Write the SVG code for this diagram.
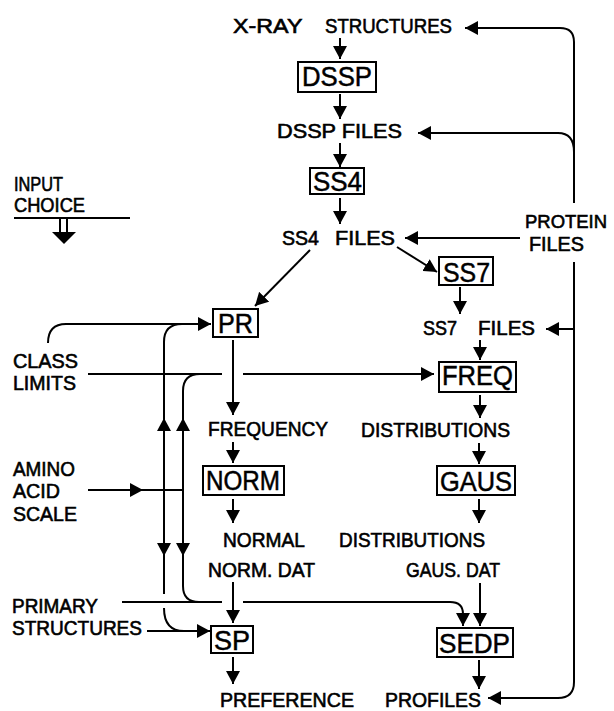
<svg xmlns="http://www.w3.org/2000/svg" width="614" height="711" viewBox="0 0 614 711">
<style>
  .t { font-family: "Liberation Sans", Arial, sans-serif; font-size: 20px; fill: #000; stroke: #000; stroke-width: 0.6; }
  .b { font-family: "Liberation Sans", Arial, sans-serif; font-size: 27px; fill: #000; stroke: #000; stroke-width: 0.5; }
  .box { fill: #fff; stroke: #000; stroke-width: 2; }
  .c { fill: none; stroke: #000; stroke-width: 2; }
  .h { fill: #000; stroke: none; }
</style>
<defs>
  <marker id="ah" markerWidth="14" markerHeight="14" refX="13" refY="7" orient="auto" markerUnits="userSpaceOnUse">
    <path d="M0,0 L13,7 L0,14 z" fill="#000"/>
  </marker>
</defs>
<rect width="614" height="711" fill="#fff"/>

<g id="connectors">
  <!-- main chain x=340 -->
  <path class="c" d="M340 38 V59" marker-end="url(#ah)"/>
  <path class="c" d="M340 94 V119" marker-end="url(#ah)"/>
  <path class="c" d="M340 143 V167" marker-end="url(#ah)"/>
  <path class="c" d="M340 198 V224" marker-end="url(#ah)"/>
  <!-- diagonals -->
  <path class="c" d="M310 250 L255 306" marker-end="url(#ah)"/>
  <path class="c" d="M397 247 L437 272" marker-end="url(#ah)"/>
  <!-- right chain -->
  <path class="c" d="M460 287 V314" marker-end="url(#ah)"/>
  <path class="c" d="M480 340 V360" marker-end="url(#ah)"/>
  <path class="c" d="M480 395 V418" marker-end="url(#ah)"/>
  <path class="c" d="M479 443 V464" marker-end="url(#ah)"/>
  <path class="c" d="M479 499 V523" marker-end="url(#ah)"/>
  <path class="c" d="M480 583 V626" marker-end="url(#ah)"/>
  <path class="c" d="M479 660 V689" marker-end="url(#ah)"/>
  <!-- left chain x=233 -->
  <path class="c" d="M233 340 V415" marker-end="url(#ah)"/>
  <path class="c" d="M233 442 V463" marker-end="url(#ah)"/>
  <path class="c" d="M233 499 V523" marker-end="url(#ah)"/>
  <path class="c" d="M233 582 V623" marker-end="url(#ah)"/>
  <path class="c" d="M233 657 V684" marker-end="url(#ah)"/>
  <!-- protein files bus -->
  <path class="c" d="M574 203 V42 Q574 28 560 28 H465" marker-end="url(#ah)"/>
  <path class="c" d="M574 152 Q574 133 558 133 H418" marker-end="url(#ah)"/>
  <path class="c" d="M520 238 H405" marker-end="url(#ah)"/>
  <path class="c" d="M574 262 V682 Q574 698 558 698 H488" marker-end="url(#ah)"/>
  <path class="c" d="M574 329 H546" marker-end="url(#ah)"/>
  <!-- class limits -->
  <path class="c" d="M48 343 Q48 324 66 324 H211" marker-end="url(#ah)"/>
  <path class="c" d="M88 374 H222"/>
  <path class="c" d="M243 374 H434" marker-end="url(#ah)"/>
  <!-- left vertical x=164 -->
  <path class="c" d="M182 324 Q164 324 164 342 V420"/>
  <path class="c" d="M164 433 V418" marker-end="url(#ah)"/>
  <path class="c" d="M164 430 V556" marker-end="url(#ah)"/>
  <path class="c" d="M164 555 V594"/>
  <path class="c" d="M164 608 Q164 631 184 631"/>
  <!-- right vertical x=183 -->
  <path class="c" d="M200 374 Q183 374 183 391 V420"/>
  <path class="c" d="M183 433 V418" marker-end="url(#ah)"/>
  <path class="c" d="M183 430 V556" marker-end="url(#ah)"/>
  <path class="c" d="M183 555 V586 Q183 602 199 602"/>
  <!-- amino acid scale -->
  <path class="c" d="M88 490 H143" marker-end="url(#ah)"/>
  <path class="c" d="M142 490 H183"/>
  <!-- primary structures -->
  <path class="c" d="M122 602 H222"/>
  <path class="c" d="M243 602 H450 Q463 602 463 614 V626" marker-end="url(#ah)"/>
  <path class="c" d="M147 631 H210" marker-end="url(#ah)"/>
  <!-- input choice -->
  <path class="c" d="M14 218 H130"/>
  <path class="c" d="M60 218 V233 M67 218 V233"/>
  <polygon class="h" points="52,232 76,232 64,244"/>
</g>

<g id="xray"><text class="t" y="33"><tspan x="233" textLength="69" lengthAdjust="spacingAndGlyphs">X-RAY</tspan> <tspan x="325" textLength="127" lengthAdjust="spacingAndGlyphs">STRUCTURES</tspan></text></g>
<g id="dssp"><rect class="box" x="298" y="62" width="78" height="30"/><text class="b" x="302" y="86" textLength="70" lengthAdjust="spacingAndGlyphs">DSSP</text></g>
<g id="dssp-files"><text class="t" x="277" y="138" textLength="125" lengthAdjust="spacingAndGlyphs">DSSP FILES</text></g>
<g id="ss4"><rect class="box" x="310" y="168" width="54" height="26"/><text class="b" x="313" y="191" textLength="49" lengthAdjust="spacingAndGlyphs">SS4</text></g>
<g id="ss4-files"><text class="t" y="245"><tspan x="282" textLength="37" lengthAdjust="spacingAndGlyphs">SS4</tspan> <tspan x="335" textLength="60" lengthAdjust="spacingAndGlyphs">FILES</tspan></text></g>
<g id="protein-files"><text class="t" x="525" y="228" textLength="82" lengthAdjust="spacingAndGlyphs" style="font-size:19px">PROTEIN</text><text class="t" x="529" y="251" textLength="55" lengthAdjust="spacingAndGlyphs">FILES</text></g>
<g id="input-choice"><text class="t" x="14" y="191" textLength="49" lengthAdjust="spacingAndGlyphs">INPUT</text><text class="t" x="14" y="212" textLength="71" lengthAdjust="spacingAndGlyphs">CHOICE</text></g>
<g id="ss7"><rect class="box" x="439" y="257" width="54" height="28"/><text class="b" x="443" y="282" textLength="47" lengthAdjust="spacingAndGlyphs">SS7</text></g>
<g id="ss7-files"><text class="t" y="335"><tspan x="423" textLength="34" lengthAdjust="spacingAndGlyphs">SS7</tspan> <tspan x="478" textLength="57" lengthAdjust="spacingAndGlyphs">FILES</tspan></text></g>
<g id="pr"><rect class="box" x="213" y="309" width="45" height="28"/><text class="b" x="218" y="333" textLength="35" lengthAdjust="spacingAndGlyphs">PR</text></g>
<g id="class-limits"><text class="t" x="13" y="368" textLength="65" lengthAdjust="spacingAndGlyphs">CLASS</text><text class="t" x="13" y="390" textLength="63" lengthAdjust="spacingAndGlyphs">LIMITS</text></g>
<g id="freq"><rect class="box" x="439" y="362" width="77" height="30"/><text class="b" x="442" y="385" textLength="71" lengthAdjust="spacingAndGlyphs">FREQ</text></g>
<g id="frequency"><text class="t" x="208" y="436" textLength="120" lengthAdjust="spacingAndGlyphs">FREQUENCY</text></g>
<g id="distributions1"><text class="t" x="361" y="437" textLength="149" lengthAdjust="spacingAndGlyphs">DISTRIBUTIONS</text></g>
<g id="amino"><text class="t" x="13" y="476" textLength="62" lengthAdjust="spacingAndGlyphs">AMINO</text><text class="t" x="13" y="498" textLength="47" lengthAdjust="spacingAndGlyphs">ACID</text><text class="t" x="13" y="521" textLength="64" lengthAdjust="spacingAndGlyphs">SCALE</text></g>
<g id="norm"><rect class="box" x="203" y="466" width="81" height="29"/><text class="b" x="206" y="490" textLength="74" lengthAdjust="spacingAndGlyphs">NORM</text></g>
<g id="gaus"><rect class="box" x="437" y="466" width="78" height="29"/><text class="b" x="440" y="491" textLength="72" lengthAdjust="spacingAndGlyphs">GAUS</text></g>
<g id="normal"><text class="t" x="223" y="547" textLength="82" lengthAdjust="spacingAndGlyphs">NORMAL</text></g>
<g id="distributions2"><text class="t" x="339" y="547" textLength="146" lengthAdjust="spacingAndGlyphs">DISTRIBUTIONS</text></g>
<g id="norm-dat"><text class="t" x="208" y="577" textLength="107" lengthAdjust="spacingAndGlyphs">NORM. DAT</text></g>
<g id="gaus-dat"><text class="t" x="406" y="577" textLength="94" lengthAdjust="spacingAndGlyphs">GAUS. DAT</text></g>
<g id="primary"><text class="t" x="12" y="613" textLength="86" lengthAdjust="spacingAndGlyphs">PRIMARY</text><text class="t" x="12" y="635" textLength="130" lengthAdjust="spacingAndGlyphs">STRUCTURES</text></g>
<g id="sp"><rect class="box" x="211" y="626" width="42" height="27"/><text class="b" x="214" y="650" textLength="36" lengthAdjust="spacingAndGlyphs">SP</text></g>
<g id="sedp"><rect class="box" x="437" y="628" width="76" height="29"/><text class="b" x="439" y="653" textLength="71" lengthAdjust="spacingAndGlyphs">SEDP</text></g>
<g id="preference"><text class="t" x="220" y="707" textLength="134" lengthAdjust="spacingAndGlyphs">PREFERENCE</text></g>
<g id="profiles"><text class="t" x="385" y="707" textLength="96" lengthAdjust="spacingAndGlyphs">PROFILES</text></g>
</svg>
